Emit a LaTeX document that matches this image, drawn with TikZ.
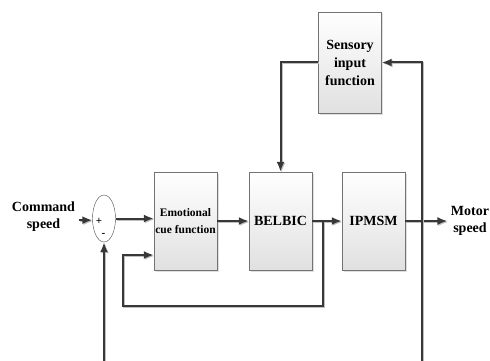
\documentclass[tikz,border=0pt]{standalone}
\usepackage{fontspec}
\setmainfont{Liberation Serif}
\usetikzlibrary{shapes}
\usetikzlibrary{arrows.meta}
\usetikzlibrary{shadows}
\tikzset{block/.style={rectangle, draw=black!55, thin, top color=white, bottom color=black!12,
  drop shadow={shadow xshift=1.5pt, shadow yshift=-1.5pt, opacity=.25},
  minimum width=63pt, minimum height=98pt, inner sep=0pt, align=center,
  font=\fontsize{14}{18}\selectfont\bfseries}}
\tikzset{small/.style={font=\fontsize{11.5}{16.5}\selectfont\bfseries}}
\tikzset{wire/.style={draw=black!78, line width=2pt,
  preaction={draw=black!25, line width=2pt, transform canvas={xshift=1pt, yshift=-1pt}}}}
\tikzset{>={Latex[length=10pt,width=8pt]}}

\begin{document}
\begin{tikzpicture}[x=1pt,y=-1pt]
  \useasboundingbox (0,0) rectangle (490,361);
  \node[block, minimum height=101pt] (sens) at (350,62.5) {Sensory\\input\\function};
  \foreach \x/\lab/\sty/\txt in {
    185.5/emo/small/{Emotional\\cue function},
    280.5/bel/{}/BELBIC,
    373.5/ipm/{}/IPMSM%
  } {
    \node[block, \sty] (\lab) at (\x, 221) {\txt};
  }
  \node[ellipse, draw=black!70, thin, fill=white, minimum width=23pt, minimum height=47pt,
    inner sep=0pt] (sum) at (104,218.5) {};
  \node[font=\fontsize{11}{11}\selectfont\bfseries] (plus) at (99,221) {+};
  \node[font=\fontsize{11}{11}\selectfont\bfseries] (minus) at (103.5,235) {-};
  \node[align=center, font=\fontsize{14}{17}\selectfont\bfseries] (cmd) at (43.5,217) {Command\\speed};
  \node[align=center, font=\fontsize{14}{17}\selectfont\bfseries] (mot) at (470,221) {Motor\\speed};

  \coordinate (fbA) at (323,221);
  \coordinate (fbB) at (323,306);
  \coordinate (fbC) at (123,306);
  \coordinate (botL) at (104,361);
  \coordinate (botR) at (421.5,361);

  % forward path
  \draw[wire,->] (cmd.east |- sum.188) -- (sum.188);
  \draw[wire,->] (sum.east) -- (sum.east -| emo.west);
  \draw[wire,->] (emo.east) -- (bel.west);
  \draw[wire,->] (bel.east) -- (ipm.west);
  \draw[wire,->] (ipm.east) -- (mot.west);

  % feedback paths
  \draw[wire,->] (fbA) -- (fbB) -- (fbC) |- ([yshift=-34pt]emo.west);
  \draw[wire,->] (botL) -- (sum.south);
  \draw[wire,->] (botR) |- (sens.east);
  \draw[wire,->] (sens.west) -| (bel.north);
\end{tikzpicture}
\end{document}
